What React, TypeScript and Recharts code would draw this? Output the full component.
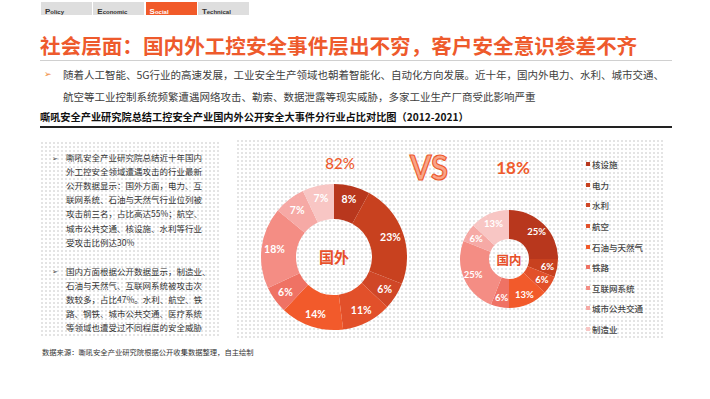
import React from "react";
import { PieChart, Pie, Cell, Legend } from "recharts";

const categories = ["核设施", "电力", "水利", "航空", "石油与天然气", "铁路", "互联网系统", "城市公共交通", "制造业"];
const foreignValues = [8, 23, 6, 11, 14, 6, 18, 7, 7];
const domesticValues = [25, 6, 0, 6, 13, 6, 25, 6, 13];
const colors = ["#b8371d", "#c8411f", "#d04727", "#e2502a", "#f25a2b", "#ef7264", "#f48d84", "#f6a9a5", "#f8c6c4"];
const tabs = ["Policy", "Economic", "Social", "Technical"];
const foreignShare = "82%";
const domesticShare = "18%";

const foreignData = categories.map((name, i) => ({ name, value: foreignValues[i] }));
const domesticData = categories.map((name, i) => ({ name, value: domesticValues[i] }));

const RAD = Math.PI / 180;
const CJK = '"Noto Sans CJK SC", "Noto Sans", sans-serif';

const makeLabel = (r: number, fs: number) => (p: any) => {
  if (!p.value) return null;
  const x = p.cx + r * Math.cos(-p.midAngle * RAD);
  const y = p.cy + r * Math.sin(-p.midAngle * RAD);
  return (
    <text x={x} y={y} fill="#fff" fontSize={fs} fontWeight={700} fontFamily="Lato, 'Liberation Sans', sans-serif" textAnchor="middle" dominantBaseline="central">
      {p.value}%
    </text>
  );
};

const LegendBox = () => (
  <div style={{ fontFamily: CJK }}>
    {categories.map((c, i) => (
      <div key={c} style={{ height: 20.6, display: "flex", alignItems: "center", fontSize: 8.5, color: "#444", fontWeight: 500 }}>
        <span style={{ width: 4, height: 4, background: colors[i], display: "inline-block", marginRight: 2 }} />
        {c}
      </div>
    ))}
  </div>
);

const dots: React.CSSProperties = {
  position: "absolute",
  backgroundImage: "radial-gradient(circle, #e4e4e4 0.9px, transparent 1.3px)",
  backgroundSize: "4px 4px",
};

const abs = (l: number, t: number, extra: React.CSSProperties = {}): React.CSSProperties => ({ position: "absolute", left: l, top: t, whiteSpace: "nowrap", ...extra });

const leftPara1 = [
  "嘶吼安全产业研究院总结近十年国内",
  "外工控安全领域遭遇攻击的行业最新",
  "公开数据显示：国外方面，电力、互",
  "联网系统、石油与天然气行业位列被",
  "攻击前三名，占比高达55%；航空、",
  "城市公共交通、核设施、水利等行业",
  "受攻击比例达30%",
];
const leftPara2 = [
  "国内方面根据公开数据显示，制造业、",
  "石油与天然气、互联网系统被攻击次",
  "数较多，占比47%。水利、航空、铁",
  "路、钢铁、城市公共交通、医疗系统",
  "等领域也遭受过不同程度的安全威胁",
];

export default function App() {
  return (
    <div style={{ position: "absolute", left: 0, top: 0, width: 710, height: 399, background: "#fff", overflow: "hidden", fontFamily: CJK }}>
      <style>{`.donut-shadow .recharts-pie-sector { filter: drop-shadow(0 0 2.5px rgba(0,0,0,0.12)); }`}</style>
      {/* tabs */}
      {tabs.map((t, i) => (
        <div key={t} style={abs(41 + i * 52.3, 2, { width: 51, height: 13, background: t === "Social" ? "#f15a29" : "#dedede", color: t === "Social" ? "#fff" : "#333", fontFamily: "'Liberation Sans', Arial, sans-serif", fontWeight: 700, lineHeight: "13px", paddingLeft: 4, boxSizing: "border-box" })}>
          <span style={{ fontSize: 8 }}>{t[0]}</span>
          <span style={{ fontSize: 6 }}>{t.slice(1)}</span>
        </div>
      ))}
      {/* title */}
      <div style={abs(40, 33, { fontSize: 20.6, fontWeight: 700, color: "#ee5a2c", lineHeight: "24px" })}>
        社会层面：国内外工控安全事件层出不穷，客户安全意识参差不齐
      </div>
      <div style={abs(40, 60, { width: 632, height: 1, background: "#d0d0d0" })} />
      {/* paragraph */}
      <div style={abs(44, 67, { fontSize: 9, color: "#f0883a", lineHeight: "14px" })}>➢</div>
      <div style={abs(63, 67, { fontSize: 10.5, color: "#404040", lineHeight: "15px" })}>
        随着人工智能、5G行业的高速发展，工业安全生产领域也朝着智能化、自动化方向发展。近十年，国内外电力、水利、城市交通、
      </div>
      <div style={abs(63, 89, { fontSize: 10.5, color: "#404040", lineHeight: "15px" })}>
        航空等工业控制系统频繁遭遇网络攻击、勒索、数据泄露等现实威胁，多家工业生产厂商受此影响严重
      </div>
      {/* subtitle */}
      <div style={abs(40, 110, { fontSize: 10.2, fontWeight: 700, color: "#111", lineHeight: "14px" })}>
        嘶吼安全产业研究院总结工控安全产业国内外公开安全大事件分行业占比对比图（2012-2021）
      </div>
      <div style={abs(40, 126, { width: 632, height: 1.5, background: "#222" })} />
      {/* left panel */}
      <div style={{ ...dots, left: 40, top: 141, width: 181, height: 196 }} />
      <div style={abs(52, 151, { fontSize: 7, color: "#444", lineHeight: "14px" })}>➢</div>
      {leftPara1.map((l, i) => (
        <div key={l} style={abs(66, 150 + i * 14.1, { fontSize: 8.5, color: "#333", lineHeight: "14px" })}>{l}</div>
      ))}
      <div style={abs(52, 264, { fontSize: 7, color: "#444", lineHeight: "14px" })}>➢</div>
      {leftPara2.map((l, i) => (
        <div key={l} style={abs(66, 264 + i * 14.1, { fontSize: 8.5, color: "#333", lineHeight: "14px" })}>{l}</div>
      ))}
      {/* right panel */}
      <div style={{ ...dots, left: 236, top: 139, width: 428, height: 199 }} />
      {/* chart */}
      <div style={{ position: "absolute", left: 0, top: 0 }}>
        <PieChart width={710} height={399} margin={{ top: 0, right: 0, bottom: 0, left: 0 }}>
          <Pie data={foreignData} dataKey="value" nameKey="name" cx={334} cy={257} innerRadius={38} outerRadius={73} startAngle={90} endAngle={-270} stroke="none" label={makeLabel(60, 10.5)} labelLine={false} isAnimationActive={false}>
            {foreignData.map((d, i) => (
              <Cell key={d.name} fill={colors[i]} />
            ))}
          </Pie>
          <Pie data={domesticData} dataKey="value" nameKey="name" cx={509} cy={259} innerRadius={20} outerRadius={49} startAngle={90} endAngle={-270} stroke="none" label={makeLabel(39, 9.5)} labelLine={false} isAnimationActive={false}>
            {domesticData.map((d, i) => (
              <Cell key={d.name} fill={colors[i]} />
            ))}
          </Pie>
          <Legend layout="vertical" align="right" verticalAlign="middle" content={() => <LegendBox />} wrapperStyle={{ position: "absolute", left: 586, top: 154, width: 90 }} />
        </PieChart>
      </div>
      {/* overlay texts */}
      <div style={abs(340, 163, { transform: "translate(-50%,-50%)", fontSize: 15, color: "#ee5a2c", fontWeight: 500, fontFamily: "Lato, 'Liberation Sans', sans-serif" })}>{foreignShare}</div>
      <div style={abs(513, 167, { transform: "translate(-50%,-50%)", fontSize: 17, color: "#ee5a2c", fontWeight: 700, fontFamily: "Lato, 'Liberation Sans', sans-serif" })}>{domesticShare}</div>
      <svg style={{ position: "absolute", left: 400, top: 145 }} width={60} height={45}>
        <text x={10} y={35} fontSize={34} fontWeight={700} fontFamily="Lato, 'Liberation Sans', sans-serif" fill="#f8a488" stroke="#ee5a2c" strokeWidth={1.2} textLength={38} lengthAdjust="spacingAndGlyphs">VS</text>
      </svg>
      <div style={abs(334, 256, { transform: "translate(-50%,-50%)", fontSize: 15, color: "#e8502a", fontWeight: 700 })}>国外</div>
      <div style={abs(509, 259, { transform: "translate(-50%,-50%)", fontSize: 12.5, color: "#e8502a", fontWeight: 700 })}>国内</div>
      {/* footer */}
      <div style={abs(42, 346, { fontSize: 7.3, color: "#333", lineHeight: "12px" })}>数据来源：嘶吼安全产业研究院根据公开收集数据整理，自主绘制</div>
    </div>
  );
}
